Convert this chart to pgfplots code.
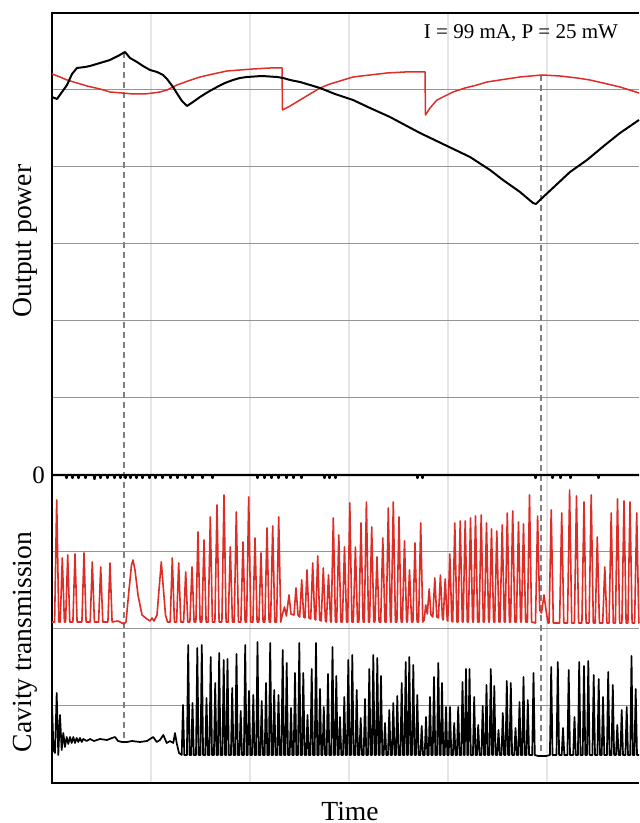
\documentclass[border=0pt]{standalone}
\usepackage{pgfplots}
\pgfplotsset{compat=1.18}
\usepackage{fontspec}
\setmainfont{Liberation Serif}
\definecolor{myred}{RGB}{222,45,38}
\definecolor{dashgray}{RGB}{128,128,128}
\begin{document}
\begin{tikzpicture}
\begin{axis}[
  scale only axis, width=293.5pt, height=385pt,
  xmin=0, xmax=587, ymin=-308, ymax=462,
  clip=false,
  axis line style={draw=none},
  xtick={99,198,297,396,495}, xticklabels={},
  ytick={-231,-154,-77,0,77,154,231,308,385},
  yticklabels={,,,0,,,,,},
  major tick length=0pt,
  xmajorgrids, ymajorgrids,
  x grid style={black!10, line width=1.1pt},
  y grid style={black!42, line width=0.5pt},
  yticklabel style={font=\fontsize{12.5}{14}\selectfont},
]
% frame
\draw[line width=1pt] (axis cs:587,462) -- (axis cs:0,462) -- (axis cs:0,-308) -- (axis cs:587,-308);
% dashed markers
\addplot[dashgray, line width=0.8pt, dash pattern=on 3pt off 2pt] coordinates {(72,423) (72,-265)};
\addplot[dashgray, line width=0.8pt, dash pattern=on 3pt off 2pt] coordinates {(489,400) (489,-281)};
% zero line (trace at zero with small dips)
\addplot[black, line width=1.2pt, line join=round] coordinates {
(0,0)(14,0)(14.5,-3)(15,0)(20,0)(20.5,-3)(21,0)(26,0)(26.5,-3)(27,0)(33,0)(33.5,-3)(34,0)
(42,0)(42.5,-4)(43,0)(48,0)(48.5,-3)(49,0)(55,0)(55.5,-3)(56,0)(62,0)(62.5,-3)(63,0)
(68,0)(68.5,-3)(69,0)(73,0)(73.5,-3)(74,0)(78,0)(78.5,-3)(79,0)(84,0)(84.5,-3)(85,0)
(90,0)(90.5,-3)(91,0)(97,0)(97.5,-3)(98,0)(103,0)(103.5,-3)(104,0)(110,0)(110.5,-3)(111,0)
(118,0)(118.5,-3)(119,0)(125,0)(125.5,-3)(126,0)(133,0)(133.5,-3)(134,0)(140,0)(140.5,-3)(141,0)
(150,0)(150.5,-3)(151,0)(160,0)(160.5,-3)(161,0)(205,0)(205.5,-3)(206,0)(212,0)(212.5,-3)(213,0)
(219,0)(219.5,-3)(220,0)(226,0)(226.5,-3)(227,0)(234,0)(234.5,-3)(235,0)(241,0)(241.5,-3)(242,0)
(249,0)(249.5,-3)(250,0)(272,0)(272.5,-3)(273,0)(277,0)(277.5,-3)(278,0)(283,0)(283.5,-3)(284,0)
(365,0)(365.5,-3)(366,0)(370,0)(370.5,-3)(371,0)(483,0)(483.5,-3)(484,0)(500,0)(500.5,-3)(501,0)
(508,0)(508.5,-3)(509,0)(518,0)(518.5,-3)(519,0)(546,0)(546.5,-3)(547,0)(587,0)
};
% top panel: red output power
\addplot[myred, line width=0.75pt, line join=round] coordinates {
(0,401) (8,398) (15,395) (25,392) (35,389) (48,386) (58,383) (70,382) (81,381) (93,381)
(101,382) (108,383) (115,385) (125,390) (136,394) (148,398) (161,401) (175,404) (188,405)
(201,406) (218,407) (230,407) (230.5,365) (238,369) (248,375) (258,381) (268,387) (278,391)
(288,394) (301,398) (318,400) (335,402) (353,403) (373,403) (373.5,360) (378,367) (385,375)
(393,379) (401,383) (413,387) (425,390) (435,393) (448,395) (468,398) (490,400) (508,399)
(525,397) (538,395) (551,392) (568,388) (587,382)
};
% top panel: black output power
\addplot[black, line width=1pt, line join=round] coordinates {
(0,378) (5,376) (10,383) (15,390) (20,401) (25,407) (33,408) (38,409) (48,412) (58,415)
(66,419) (73,423) (78,417) (85,413) (91,409) (98,405) (105,403) (111,400) (115,396)
(121,388) (126,380) (130,374) (135,369) (141,373) (148,378) (156,383) (165,388) (173,392)
(181,395) (188,397) (195,398) (210,399) (225,398) (231,397) (238,395) (248,393) (258,390)
(268,387) (283,381) (301,375) (318,367) (338,358) (368,342) (393,330) (418,318) (438,305)
(451,295) (468,283) (481,272) (484,271) (488,275) (503,289) (518,303) (535,315) (553,330)
(568,342) (587,355)
};
% bottom panel: red cavity transmission
\addplot[myred, line width=0.8pt, line join=round] coordinates {
(0,-147)
(2.6,-147)(4.7,-25)(6.8,-147)
(8.2,-147)(10.3,-83)(12.4,-147)
(13.6,-147)(15.7,-80)(17.8,-147)
(20.9,-147)(23,-79)(25.1,-147)
(29.9,-147)(32,-78)(34.1,-147)
(38.2,-147)(40.3,-87)(42.4,-147)
(46.6,-147)(48.7,-92)(50.8,-147)
(55.9,-147)(58,-88)(60.1,-147)
(66,-146)(72,-149)(74,-147)(77,-115)(79.5,-90)(81,-85)(83,-95)(86,-120)(90,-140)(95,-144)(98,-146)(100,-143)(102,-146)
(105,-140)(107,-115)(109.3,-87)(111.5,-115)(113.5,-140)(115.5,-147)
(118.2,-147)(120.3,-83)(122.4,-147)
(124.6,-147)(126.7,-88)(128.8,-147)
(131.6,-147)(133.7,-97)(135.8,-147)
(137.9,-147)(140,-92)(142.1,-147)
(143.9,-147)(146,-57)(148.1,-147)
(149.9,-147)(152,-65)(154.1,-147)
(156.2,-147)(158.3,-42)(160.4,-147)
(162.9,-147)(165,-30)(167.1,-147)
(169.9,-147)(172,-20)(174.1,-147)
(176.2,-147)(178.3,-72)(180.4,-147)
(182.2,-147)(184.3,-37)(186.4,-147)
(188.9,-147)(191,-67)(193.1,-147)
(194.6,-147)(196.7,-22)(198.8,-147)
(200.9,-147)(203,-63)(205.1,-147)
(206.9,-147)(209,-78)(211.1,-147)
(212.9,-147)(215,-53)(217.1,-147)
(218.6,-147)(220.7,-51)(222.8,-147)
(224.6,-147)(226.7,-42)(228.8,-147)
(230,-141)(232.5,-132)(234.4,-141)(237,-120)(239,-139)(242,-140)(244,-113)(246,-140)
(247.7,-142)(249.7,-105)(251.7,-142)(253,-143)(255,-95)(257,-143)(258.7,-144)(260.7,-88)(262.7,-144)
(263.7,-145)(265.7,-81)(267.7,-145)(269.2,-146)(271.3,-93)(273.4,-146)(274.4,-147)(276.5,-100)(278.6,-147)
(279.2,-147)(281.3,-43)(283.4,-147)
(284.7,-147)(286.8,-60)(288.9,-147)
(290.4,-147)(292.5,-72)(294.6,-147)
(295.7,-147)(297.8,-28)(299.9,-147)
(301.3,-147)(303.4,-72)(305.5,-147)
(306.9,-147)(309,-48)(311.1,-147)
(312.3,-147)(314.4,-27)(316.5,-147)
(317.6,-147)(319.7,-52)(321.8,-147)
(322.9,-147)(325,-82)(327.1,-147)
(328.7,-147)(330.8,-63)(332.9,-147)
(334.2,-147)(336.3,-33)(338.4,-147)
(339.2,-147)(341.3,-27)(343.4,-147)
(344.9,-147)(347,-42)(349.1,-147)
(350.4,-147)(352.5,-66)(354.6,-147)
(355.4,-147)(357.5,-95)(359.6,-147)
(360.9,-147)(363,-68)(365.1,-147)
(366.6,-147)(368.7,-48)(370.8,-147)
(372.2,-145)(373.7,-130)(375.3,-139)(377.2,-114)(379,-140)(380.8,-142)(382.8,-103)(384.8,-142)
(386.4,-143)(388.4,-100)(390.4,-143)(391.2,-145)(393.2,-104)(395.2,-145)(395.8,-146)(397.8,-79)(399.8,-146)
(400.7,-147)(402.8,-48)(404.9,-147)
(406.1,-147)(408.2,-46)(410.3,-147)
(411.1,-147)(413.2,-46)(415.3,-147)
(416.4,-147)(418.5,-43)(420.6,-147)
(421.4,-147)(423.5,-41)(425.6,-147)
(427.1,-147)(429.2,-40)(431.3,-147)
(432.4,-147)(434.5,-48)(436.6,-147)
(437.4,-147)(439.5,-54)(441.6,-147)
(442.7,-147)(444.8,-56)(446.9,-147)
(448.1,-147)(450.2,-50)(452.3,-147)
(453.2,-147)(455.3,-38)(457.4,-147)
(458.6,-147)(460.7,-36)(462.8,-147)
(464.4,-147)(466.5,-47)(468.6,-147)
(469.4,-147)(471.5,-49)(473.6,-147)
(475.4,-147)(477.5,-20)(479.6,-147)
(483.5,-148)(485.6,-41)(487.7,-135)
(489.5,-138)(492,-120)(494,-135)(496,-148)
(497.1,-148)(499.2,-35)(501.3,-148)
(507.6,-148)(509.7,-38)(511.8,-148)
(515.5,-148)(517.6,-15)(519.7,-148)
(522.4,-148)(524.5,-21)(526.6,-148)
(529.9,-148)(532,-27)(534.1,-148)
(537.1,-148)(539.2,-20)(541.3,-148)
(543.2,-148)(545.3,-62)(547.4,-148)
(550.7,-148)(552.8,-92)(554.9,-148)
(557.1,-148)(559.2,-38)(561.3,-148)
(563.4,-148)(565.5,-24)(567.6,-148)
(569.9,-148)(572,-26)(574.1,-148)
(575.9,-148)(578,-27)(580.1,-148)
(582.6,-148)(584.7,-38)(586.8,-148)
(587,-147)
};
% bottom panel: black cavity transmission
\addplot[black, line width=0.85pt, line join=round] coordinates {
(0,-228)(1.5,-275)(3,-278)(4.7,-218)(6.3,-280)(8,-240)(9.7,-275)(11.3,-258)(13,-272)(14.7,-262)
(16.3,-269)(18,-262)(19.7,-268)(21.3,-262)(23,-268)(24.7,-263)(26.3,-267)(28,-263)(29.7,-267)
(31.3,-264)(34.7,-266)(38,-264)(42,-266)(48,-264)(55,-265)(60,-263)(63,-262)(66,-266)(70,-267)
(75,-267)(80,-266)(88,-267)(95,-266)(98,-264)(101.3,-262)(104.7,-267)(108,-265)(111.3,-260)
(114.7,-268)(118,-266)(121.3,-268)(123,-258)(124.7,-268)(127,-278)
(129.7,-280)(131,-230)(132.3,-280)
(134.9,-280)(136.2,-170)(137.5,-280)
(139.2,-280)(140.5,-228)(141.8,-280)
(144,-280)(145.3,-173)(146.6,-280)
(148.5,-280)(149.8,-170)(151.1,-280)
(153.2,-280)(154.5,-223)(155.8,-280)
(157.4,-280)(158.7,-182)(160,-280)
(161.9,-280)(163.2,-208)(164.5,-280)
(165.9,-280)(167.2,-178)(168.5,-280)
(170.4,-280)(171.7,-185)(173,-280)
(174.2,-280)(175.5,-184)(176.8,-280)
(178.9,-280)(180.2,-213)(181.5,-280)
(183.2,-280)(184.5,-179)(185.8,-280)
(187.4,-280)(188.7,-236)(190,-280)
(191.9,-280)(193.2,-170)(194.5,-280)
(195.7,-280)(197,-216)(198.3,-280)
(200,-280)(201.3,-220)(202.6,-280)
(204.2,-280)(205.5,-167)(206.8,-280)
(208.4,-280)(209.7,-226)(211,-280)
(212.7,-280)(214,-208)(215.3,-280)
(216.9,-280)(218.2,-168)(219.5,-280)
(220.9,-280)(222.2,-215)(223.5,-280)
(225.2,-280)(226.5,-220)(227.8,-280)
(229.4,-280)(230.7,-175)(232,-280)
(233.4,-280)(234.7,-188)(236,-280)
(237.7,-280)(239,-233)(240.3,-280)
(241.7,-280)(243,-198)(244.3,-280)
(246,-280)(247.3,-168)(248.6,-280)
(250,-280)(251.3,-198)(252.6,-280)
(254.2,-280)(255.5,-240)(256.8,-280)
(258.4,-280)(259.7,-194)(261,-280)
(262.7,-280)(264,-168)(265.3,-280)
(266.7,-280)(268,-214)(269.3,-280)
(270.5,-280)(271.8,-232)(273.1,-280)
(274.7,-280)(276,-199)(277.3,-280)
(279.2,-280)(280.5,-172)(281.8,-280)
(283,-280)(284.3,-201)(285.6,-280)
(286.7,-280)(288,-242)(289.3,-280)
(291,-280)(292.3,-222)(293.6,-280)
(295,-280)(296.3,-185)(297.6,-280)
(299,-280)(300.3,-180)(301.6,-280)
(303.4,-280)(304.7,-215)(306,-280)
(307.4,-280)(308.7,-243)(310,-280)
(311.7,-280)(313,-224)(314.3,-280)
(316,-280)(317.3,-194)(318.6,-280)
(320,-280)(321.3,-180)(322.6,-280)
(324,-280)(325.3,-183)(326.6,-280)
(327.7,-280)(329,-201)(330.3,-280)
(331.7,-280)(333,-248)(334.3,-280)
(336,-280)(337.3,-235)(338.6,-280)
(340,-280)(341.3,-228)(342.6,-280)
(344,-280)(345.3,-221)(346.6,-280)
(348.4,-280)(349.7,-208)(351,-280)
(352.4,-280)(353.7,-187)(355,-280)
(356,-280)(357.3,-182)(358.6,-280)
(360,-280)(361.3,-190)(362.6,-280)
(364,-280)(365.3,-220)(366.6,-280)
(368.4,-280)(369.7,-251)(371,-280)
(372.7,-280)(374,-242)(375.3,-280)
(376.7,-280)(378,-222)(379.3,-280)
(380.7,-280)(382,-202)(383.3,-280)
(385,-280)(386.3,-188)(387.6,-280)
(388.7,-280)(390,-208)(391.3,-280)
(392.7,-280)(394,-232)(395.3,-280)
(396.7,-280)(398,-232)(399.3,-280)
(400.9,-280)(402.2,-248)(403.5,-280)
(404.9,-280)(406.2,-232)(407.5,-280)
(409.2,-280)(410.5,-207)(411.8,-280)
(412.7,-280)(414,-194)(415.3,-280)
(416.2,-280)(417.5,-194)(418.8,-280)
(420.9,-280)(422.2,-222)(423.5,-280)
(424.9,-280)(426.2,-250)(427.5,-280)
(429.4,-280)(430.7,-231)(432,-280)
(433.2,-280)(434.5,-210)(435.8,-280)
(437.5,-280)(438.8,-194)(440.1,-280)
(441,-280)(442.3,-211)(443.6,-280)
(445.2,-280)(446.5,-255)(447.8,-280)
(449.5,-280)(450.8,-238)(452.1,-280)
(453.5,-280)(454.8,-206)(456.1,-280)
(457.5,-280)(458.8,-208)(460.1,-280)
(462.2,-280)(463.5,-253)(464.8,-280)
(466.2,-280)(467.5,-227)(468.8,-280)
(470.2,-280)(471.5,-202)(472.8,-280)
(474.5,-280)(475.8,-225)(477.1,-280)
(480.2,-280)(481.5,-198)(482.8,-280)
(486,-281)(494,-281)
(497.9,-280)(499.2,-192)(500.5,-280)
(504.5,-280)(505.8,-187)(507.1,-280)
(509.7,-280)(511,-253)(512.3,-280)
(515.4,-280)(516.7,-195)(518,-280)
(521.2,-280)(522.5,-242)(523.8,-280)
(525.9,-280)(527.2,-187)(528.5,-280)
(530.7,-280)(532,-191)(533.3,-280)
(535,-280)(536.3,-186)(537.6,-280)
(540.4,-280)(541.7,-200)(543,-280)
(545.4,-280)(546.7,-204)(548,-280)
(549.7,-280)(551,-222)(552.3,-280)
(554.9,-280)(556.2,-197)(557.5,-280)
(559.5,-280)(560.8,-210)(562.1,-280)
(564,-280)(565.3,-250)(566.6,-280)
(568.4,-280)(569.7,-235)(571,-280)
(573.4,-280)(574.7,-232)(576,-280)
(578.2,-280)(579.5,-181)(580.8,-280)
(582.4,-280)(583.7,-214)(585,-280)
(587,-280)
};
% texts
\node[rotate=90, anchor=base, font=\fontsize{13.8}{16}\selectfont] at (axis cs:-21,234) {Output power};
\node[rotate=90, anchor=base, font=\fontsize{13.8}{16}\selectfont] at (axis cs:-21,-167) {Cavity transmission};
\node[anchor=base, font=\fontsize{13.8}{16}\selectfont] at (axis cs:298,-345) {Time};
\node[anchor=base east, font=\fontsize{10.5}{12}\selectfont] at (axis cs:573,436) {I = 99 mA, P = 25 mW};
\end{axis}
\pgfresetboundingbox
\path[use as bounding box] ([xshift=-26pt,yshift=-20pt]current axis.south west) rectangle ([yshift=6.5pt]current axis.north east);
\end{tikzpicture}
\end{document}
